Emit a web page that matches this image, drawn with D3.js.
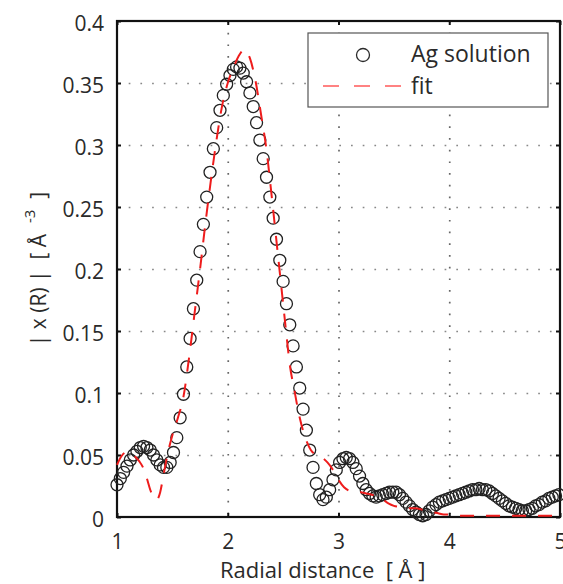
<!DOCTYPE html>
<html>
<head>
<meta charset="utf-8">
<script src="https://cdn.jsdelivr.net/npm/d3@7"></script>
<style>
  body { margin: 0; background: #fff; }
  svg { display: block; font-family: "Open Sans", sans-serif; }
  .tick text { fill: #2a2a2a; }
  .label { white-space: pre; }
</style>
</head>
<body>
<svg id="chart" width="563" height="584"></svg>
<script>
// Radial distance grid of the measured points [A]
const rData = [
  1.00, 1.03, 1.06, 1.09, 1.12, 1.15, 1.18, 1.21, 1.24, 1.27,
  1.30, 1.33, 1.36, 1.39, 1.42, 1.45, 1.48, 1.51, 1.54, 1.57,
  1.60, 1.63, 1.66, 1.69, 1.72, 1.75, 1.78, 1.81, 1.84, 1.87,
  1.90, 1.93, 1.96, 1.99, 2.02, 2.05, 2.08, 2.11, 2.14, 2.17,
  2.20, 2.23, 2.26, 2.29, 2.32, 2.35, 2.38, 2.41, 2.44, 2.47,
  2.50, 2.53, 2.56, 2.59, 2.62, 2.65, 2.68, 2.71, 2.74, 2.77,
  2.80, 2.83, 2.86, 2.89, 2.92, 2.95, 2.98, 3.01, 3.04, 3.07,
  3.10, 3.13, 3.16, 3.19, 3.22, 3.25, 3.28, 3.31, 3.34, 3.37,
  3.40, 3.43, 3.46, 3.49, 3.52, 3.55, 3.58, 3.61, 3.64, 3.67,
  3.70, 3.73, 3.76, 3.79, 3.82, 3.85, 3.88, 3.91, 3.94, 3.97,
  4.00, 4.03, 4.06, 4.09, 4.12, 4.15, 4.18, 4.21, 4.24, 4.27,
  4.30, 4.33, 4.36, 4.39, 4.42, 4.45, 4.48, 4.51, 4.54, 4.57,
  4.60, 4.63, 4.66, 4.69, 4.72, 4.75, 4.78, 4.81, 4.84, 4.87,
  4.90, 4.93, 4.96, 4.99
];

// |chi(R)| of the Ag solution (circles)
const chiData = [
  0.026, 0.031, 0.036, 0.041, 0.046, 0.050, 0.053, 0.056, 0.057, 0.056,
  0.054, 0.050, 0.046, 0.042, 0.040, 0.040, 0.044, 0.052, 0.064, 0.080,
  0.099, 0.121, 0.144, 0.168, 0.191, 0.214, 0.236, 0.258, 0.278, 0.297,
  0.314, 0.328, 0.340, 0.349, 0.356, 0.361, 0.363, 0.362, 0.358, 0.351,
  0.342, 0.331, 0.318, 0.304, 0.289, 0.274, 0.258, 0.241, 0.224, 0.207,
  0.190, 0.172, 0.155, 0.138, 0.121, 0.104, 0.087, 0.070, 0.054, 0.040,
  0.027, 0.018, 0.014, 0.016, 0.022, 0.030, 0.038, 0.044, 0.047, 0.048,
  0.047, 0.044, 0.039, 0.033, 0.027, 0.022, 0.019, 0.017, 0.016, 0.017,
  0.018, 0.019, 0.020, 0.020, 0.020, 0.018, 0.015, 0.012, 0.009, 0.006,
  0.004, 0.002, 0.001, 0.002, 0.005, 0.008, 0.010, 0.012, 0.013, 0.014,
  0.015, 0.016, 0.017, 0.018, 0.019, 0.020, 0.021, 0.022, 0.022, 0.023,
  0.022, 0.022, 0.021, 0.019, 0.017, 0.015, 0.013, 0.011, 0.009, 0.008,
  0.007, 0.006, 0.005, 0.005, 0.006, 0.007, 0.009, 0.010, 0.012, 0.013,
  0.015, 0.016, 0.017, 0.018
];

// fit curve (red dashed)
const rFit = [
  1.00, 1.04, 1.08, 1.12, 1.16, 1.20, 1.24, 1.27, 1.30, 1.33,
  1.36, 1.39, 1.42, 1.46, 1.50, 1.55, 1.60, 1.65, 1.70, 1.75,
  1.80, 1.85, 1.90, 1.95, 2.00, 2.05, 2.10, 2.15, 2.20, 2.25,
  2.30, 2.35, 2.40, 2.45, 2.50, 2.53, 2.56, 2.60, 2.65, 2.70,
  2.75, 2.80, 2.85, 2.90, 2.95, 3.00, 3.05, 3.10, 3.15, 3.20,
  3.25, 3.30, 3.35, 3.40, 3.45, 3.50, 3.55, 3.60, 3.65, 3.70,
  3.75, 3.80, 3.85, 3.90, 3.95, 4.00, 4.10, 4.20, 4.30, 4.40,
  4.50, 4.60, 4.70, 4.80, 4.90, 5.00
];
const chiFit = [
  0.042, 0.049, 0.052, 0.052, 0.049, 0.045, 0.039, 0.031, 0.022, 0.016,
  0.014, 0.020, 0.034, 0.052, 0.066, 0.080, 0.097, 0.128, 0.164, 0.200,
  0.238, 0.273, 0.305, 0.332, 0.350, 0.362, 0.372, 0.377, 0.370, 0.352,
  0.325, 0.296, 0.256, 0.214, 0.172, 0.147, 0.123, 0.103, 0.080, 0.064,
  0.054, 0.050, 0.048, 0.044, 0.038, 0.030, 0.024, 0.021, 0.020, 0.020,
  0.019, 0.018, 0.016, 0.014, 0.011, 0.009, 0.008, 0.007, 0.007, 0.007,
  0.006, 0.005, 0.004, 0.003, 0.002, 0.002, 0.001, 0.001, 0.001, 0.001,
  0.001, 0.001, 0.001, 0.001, 0.001, 0.001
];

const xTicks = [1, 2, 3, 4, 5];
const yTicks = [0, 0.05, 0.1, 0.15, 0.2, 0.25, 0.3, 0.35, 0.4];
const yTickLabels = ["0", "0.05", "0.1", "0.15", "0.2", "0.25", "0.3", "0.35", "0.4"];
const legendLabels = ["Ag solution", "fit"];

const svg = d3.select("#chart");

// plot box in pixels
const boxL = 117, boxR = 560, boxT = 21, boxB = 517;

const x = d3.scaleLinear().domain([1, 5]).range([boxL, boxR]);
const y = d3.scaleLinear().domain([0, 0.4]).range([boxB, boxT]);

// dotted grid (inner ticks only)
svg.append("g")
    .attr("transform", "translate(0," + boxT + ")")
    .call(d3.axisBottom(x).tickValues(xTicks.slice(1, -1)).tickSize(boxB - boxT).tickFormat(""))
    .call(g => g.select(".domain").remove())
    .selectAll("line")
    .attr("stroke", "#666")
    .attr("stroke-width", 1.7)
    .attr("stroke-dasharray", "1.7,10");

svg.append("g")
    .attr("transform", "translate(" + boxL + ",0)")
    .call(d3.axisRight(y).tickValues(yTicks.slice(1, -1)).tickSize(boxR - boxL).tickFormat(""))
    .call(g => g.select(".domain").remove())
    .selectAll("line")
    .attr("stroke", "#888")
    .attr("stroke-width", 1.7)
    .attr("stroke-dasharray", "1.7,10");

// axes with inward ticks
function styleAxis(g) {
    g.select(".domain").remove();
    g.selectAll(".tick line").attr("stroke", "#111").attr("stroke-width", 2);
    g.selectAll(".tick text").attr("font-size", 21).attr("font-family", "Open Sans");
}

svg.append("g")
    .attr("transform", "translate(0," + boxB + ")")
    .call(d3.axisBottom(x).tickValues(xTicks).tickFormat(d3.format("d"))
        .tickSizeInner(-4).tickSizeOuter(0).tickPadding(17))
    .call(styleAxis);

svg.append("g")
    .attr("transform", "translate(" + boxL + ",0)")
    .call(d3.axisLeft(y).tickValues(yTicks).tickFormat((d, i) => yTickLabels[i])
        .tickSizeInner(-4).tickSizeOuter(0).tickPadding(13))
    .call(styleAxis)
    .selectAll(".tick text").attr("dy", "0.47em");

svg.append("g")
    .attr("transform", "translate(0," + boxT + ")")
    .call(d3.axisTop(x).tickValues(xTicks).tickFormat("").tickSizeInner(-4).tickSizeOuter(0))
    .call(styleAxis);

svg.append("g")
    .attr("transform", "translate(" + boxR + ",0)")
    .call(d3.axisRight(y).tickValues(yTicks).tickFormat("").tickSizeInner(-4).tickSizeOuter(0))
    .call(styleAxis);

// frame
svg.append("rect")
    .attr("x", boxL).attr("y", boxT)
    .attr("width", boxR - boxL).attr("height", boxB - boxT)
    .attr("fill", "none")
    .attr("stroke", "#111")
    .attr("stroke-width", 2.2);

// measured points
const points = rData.map((r, i) => [r, chiData[i]]);
svg.append("g")
    .selectAll("circle")
    .data(points)
    .enter()
    .append("circle")
    .attr("cx", d => x(d[0]))
    .attr("cy", d => y(d[1]))
    .attr("r", 6)
    .attr("fill", "none")
    .attr("stroke", "#222")
    .attr("stroke-width", 1.3);

// fit
const fitLine = d3.line()
    .x(d => x(d[0]))
    .y(d => y(d[1]))
    .curve(d3.curveMonotoneX);

svg.append("path")
    .datum(rFit.map((r, i) => [r, chiFit[i]]))
    .attr("d", fitLine)
    .attr("fill", "none")
    .attr("stroke", "#ee1c1c")
    .attr("stroke-width", 2)
    .attr("stroke-dasharray", "14,12");

// legend
const legend = svg.append("g");
legend.append("rect")
    .attr("x", 308).attr("y", 33)
    .attr("width", 240).attr("height", 74)
    .attr("fill", "#fff")
    .attr("stroke", "#555")
    .attr("stroke-width", 1.2);

legend.append("circle")
    .attr("cx", 363).attr("cy", 55)
    .attr("r", 6.5)
    .attr("fill", "none")
    .attr("stroke", "#2b2b2b")
    .attr("stroke-width", 1.3);

legend.append("line")
    .attr("x1", 323).attr("x2", 402)
    .attr("y1", 86).attr("y2", 86)
    .attr("stroke", "#ff5a5a")
    .attr("stroke-width", 1.5)
    .attr("stroke-dasharray", "16,15");

legend.selectAll("text")
    .data(legendLabels)
    .enter()
    .append("text")
    .attr("x", 411)
    .attr("y", (d, i) => 62 + i * 32)
    .attr("font-size", 23)
    .attr("fill", "#2a2a2a")
    .text(d => d);

// axis titles
svg.append("text")
    .attr("class", "label")
    .attr("x", 220)
    .attr("y", 578)
    .attr("font-size", 22)
    .attr("fill", "#2a2a2a")
    .text("Radial distance  [ Å ]");

const ylab = svg.append("text")
    .attr("class", "label")
    .attr("transform", "translate(46," + ((boxT + boxB) / 2) + ") rotate(-90)")
    .attr("text-anchor", "middle")
    .attr("font-size", 21)
    .attr("fill", "#2a2a2a");
ylab.append("tspan").text("| x (R) |  [ Å  ");
ylab.append("tspan").attr("font-size", 15).attr("dy", -11).text("-3");
ylab.append("tspan").attr("dy", 11).text("  ]");
</script>
</body>
</html>
